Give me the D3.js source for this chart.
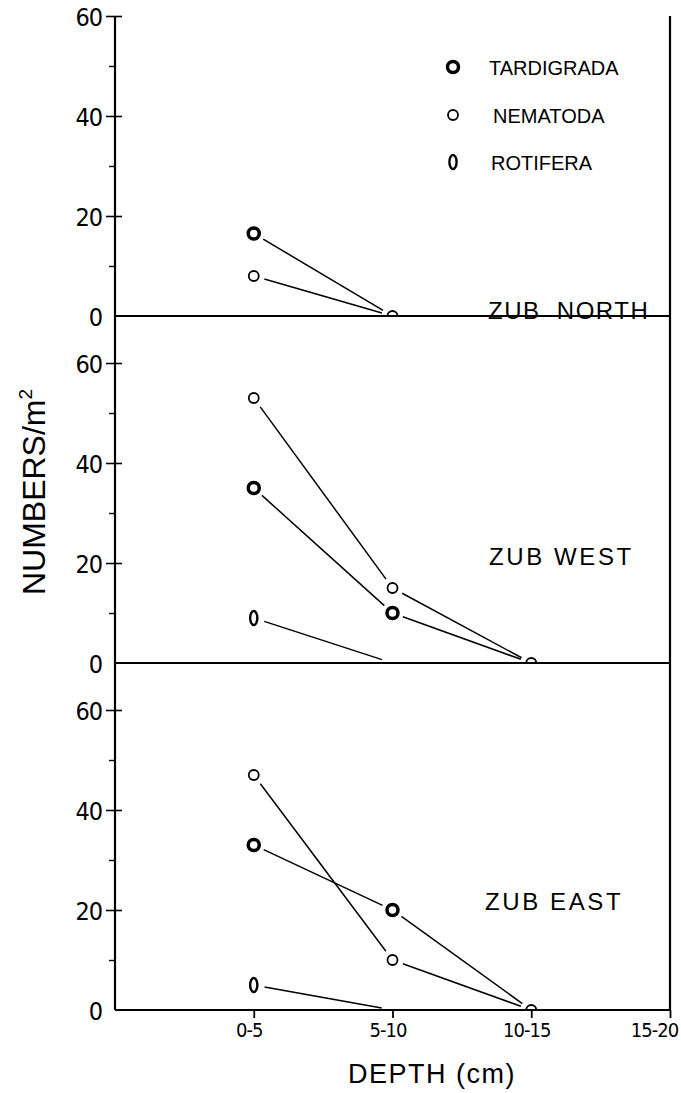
<!DOCTYPE html>
<html>
<head>
<meta charset="utf-8">
<script src="https://cdn.jsdelivr.net/npm/d3@7"></script>
<style>
  body { margin: 0; background: #fff; }
  svg { display: block; }
  .tick text { font-family: "DejaVu Sans Condensed", "Liberation Sans Narrow", sans-serif; fill: #000; }
  .lbl { font-family: "Liberation Sans", Arial, sans-serif; fill: #000; }
</style>
</head>
<body>
<div class="container"></div>
<script>
// depth classes along the x axis
const depths = ['0-5', '5-10', '10-15', '15-20'];

// numbers per m2
const northTardigrada = [16.5, 0];
const northNematoda = [8, 0];
const northRotifera = [];

const westTardigrada = [35, 10, 0];
const westNematoda = [53, 15, 0];
const westRotifera = [9, 0];

const eastTardigrada = [33, 20, 0];
const eastNematoda = [47, 10, 0];
const eastRotifera = [5, 0];

const majorTicks = [0, 20, 40, 60];
const minorTicks = [10, 30, 50];
const legendNames = ['TARDIGRADA', 'NEMATODA', 'ROTIFERA'];

const W = 681, H = 1093;
const left = 115, right = 670;

const svg = d3.select('.container').append('svg')
  .attr('width', W)
  .attr('height', H);

svg.append('rect').attr('width', W).attr('height', H).attr('fill', '#fff');

// x: index -1 sits on the y axis, 15-20 on the right border
const x = d3.scaleLinear().domain([-1, 3]).range([left, right]);

const panels = [
  {id: 'north', name: 'ZUB  NORTH', base: 316, top: 16, maxV: 60, nameX: 488, nameY: 319, ls: 1.5,
    series: [['tard', northTardigrada], ['nema', northNematoda], ['roti', northRotifera]]},
  {id: 'west', name: 'ZUB WEST', base: 663, top: 316, maxV: 69.4, nameX: 489, nameY: 565, ls: 2.6,
    series: [['tard', westTardigrada], ['nema', westNematoda], ['roti', westRotifera]]},
  {id: 'east', name: 'ZUB EAST', base: 1010, top: 663, maxV: 69.4, nameX: 485, nameY: 910, ls: 2.6,
    series: [['tard', eastTardigrada], ['nema', eastNematoda], ['roti', eastRotifera]]}
];

function marker(g, kind, cx, cy) {
  if (kind === 'tard') {
    g.append('circle').attr('cx', cx).attr('cy', cy).attr('r', 5.5)
      .attr('fill', '#fff').attr('stroke', '#000').attr('stroke-width', 3.5);
  } else if (kind === 'nema') {
    g.append('circle').attr('cx', cx).attr('cy', cy).attr('r', 5)
      .attr('fill', '#fff').attr('stroke', '#000').attr('stroke-width', 1.8);
  } else {
    g.append('ellipse').attr('cx', cx).attr('cy', cy).attr('rx', 3.6).attr('ry', 7)
      .attr('fill', '#fff').attr('stroke', '#000').attr('stroke-width', 2.4);
  }
}

panels.forEach(function (p) {
  const y = d3.scaleLinear().domain([0, p.maxV]).range([p.base, p.top]);

  // left axis, major ticks cross the line
  const ax = svg.append('g').attr('transform', 'translate(' + left + ',0)')
    .call(d3.axisLeft(y).tickValues(majorTicks).tickSize(9).tickPadding(4));
  ax.select('.domain').remove();
  ax.selectAll('.tick line').attr('x1', 7).attr('stroke-width', 1.6)
    .filter(function (d) { return d === 0; }).remove();
  ax.selectAll('.tick text').attr('font-size', 25).attr('dy', '0.36em').attr('letter-spacing', -1);

  const mx = svg.append('g').attr('transform', 'translate(' + left + ',0)')
    .call(d3.axisLeft(y).tickValues(minorTicks).tickSize(6).tickFormat(''));
  mx.select('.domain').remove();
  mx.selectAll('.tick line').attr('stroke-width', 1.4);

  // frame
  svg.append('line').attr('x1', left).attr('x2', left).attr('y1', p.top).attr('y2', p.base)
    .attr('stroke', '#000').attr('stroke-width', 2.2);
  svg.append('line').attr('x1', right).attr('x2', right).attr('y1', p.top).attr('y2', p.base)
    .attr('stroke', '#000').attr('stroke-width', 2.2);
  svg.append('line').attr('x1', left).attr('x2', right).attr('y1', p.base).attr('y2', p.base)
    .attr('stroke', '#000').attr('stroke-width', 2);

  // data, clipped at the baseline
  svg.append('clipPath').attr('id', 'clip-' + p.id)
    .append('rect').attr('x', left).attr('y', p.top).attr('width', right - left).attr('height', p.base - p.top - 1);
  const g = svg.append('g').attr('clip-path', 'url(#clip-' + p.id + ')');

  const gap = 11;
  p.series.forEach(function (s) {
    const kind = s[0], vals = s[1];
    for (let i = 0; i < vals.length - 1; i++) {
      const x1 = x(i), y1 = y(vals[i]), x2 = x(i + 1), y2 = y(vals[i + 1]);
      const d = Math.hypot(x2 - x1, y2 - y1);
      const ux = (x2 - x1) / d, uy = (y2 - y1) / d;
      g.append('line')
        .attr('x1', x1 + ux * gap).attr('y1', y1 + uy * gap)
        .attr('x2', x2 - ux * gap).attr('y2', y2 - uy * gap)
        .attr('stroke', '#000').attr('stroke-width', 1.5);
    }
    vals.forEach(function (v, i) {
      if (v > 0) marker(g, kind, x(i), y(v));
      else if (kind === 'nema') marker(g, kind, x(i), y(v));
    });
  });

  svg.append('text').attr('class', 'lbl')
    .attr('x', p.nameX).attr('y', p.nameY)
    .attr('font-size', 24).attr('letter-spacing', p.ls)
    .style('white-space', 'pre')
    .text(p.name);
});

// x axis at the bottom
const xa = svg.append('g').attr('transform', 'translate(0,1010)')
  .call(d3.axisBottom(x).tickValues([0, 1, 2, 3]).tickSize(8).tickPadding(5)
    .tickFormat(function (d) { return depths[d]; }));
xa.select('.domain').remove();
xa.selectAll('.tick line').attr('stroke-width', 1.8);
xa.selectAll('.tick text').attr('font-size', 20).attr('letter-spacing', -1)
  .attr('dx', function (d) { return d === 3 ? -16 : -5; });

// legend
const legend = svg.append('g');
legendNames.forEach(function (name, i) {
  const ly = [67, 115, 162][i];
  marker(legend, ['tard', 'nema', 'roti'][i], 453, ly);
  legend.append('text').attr('class', 'lbl')
    .attr('x', [489, 493, 491][i]).attr('y', ly + 8)
    .attr('font-size', 20)
    .text(name);
});

// axis titles
const yt = svg.append('text').attr('class', 'lbl')
  .attr('transform', 'translate(45,492) rotate(-90)')
  .attr('text-anchor', 'middle')
  .attr('font-size', 32);
yt.append('tspan').text('NUMBERS/m');
yt.append('tspan').attr('dy', -13).attr('font-size', 19).text('2');

svg.append('text').attr('class', 'lbl')
  .attr('x', 432).attr('y', 1083)
  .attr('text-anchor', 'middle')
  .attr('font-size', 27).attr('letter-spacing', 1.5)
  .text('DEPTH (cm)');
</script>
</body>
</html>
